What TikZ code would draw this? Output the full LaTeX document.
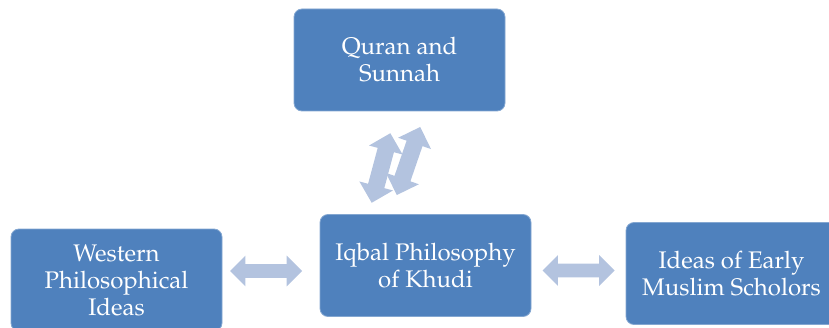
\documentclass[tikz,border=0pt]{standalone}
\usepackage[T1]{fontenc}
\usepackage{mathpazo}
\usepackage{tikz}
\usetikzlibrary{shapes,shapes.arrows,positioning}
\definecolor{boxblue}{HTML}{4F81BD}
\definecolor{arrowblue}{HTML}{B3C3DF}
\tikzset{
	block/.style = {rectangle, rounded corners = 4pt, fill = boxblue, draw = boxblue!70!white,
		line width = 0.4pt, minimum width = 105.5pt, minimum height = 51pt,
		align = center, text = white, font = \fontsize{12}{13.5}\selectfont},
	link arrow/.style = {double arrow, fill = arrowblue, draw = none, inner sep = 3.25pt,
		minimum height = 36pt, minimum width = 15pt, double arrow head extend = 4.25pt},
	wide link/.style = {link arrow, inner sep = 4pt, minimum width = 17pt,
		double arrow head extend = 4.5pt}
}
\begin{document}
\begin{tikzpicture}[x = 0.5pt, y = 0.5pt]
			\useasboundingbox (0, 0) rectangle (829, 327);
			\clip (0, 0) rectangle (829, 327);

			% boxes
			\node [block] (quran)   at (399.5, 267)  {Quran and\\Sunnah};
			\node [block] (khudi)   at (425.5, 61.5) {Iqbal Philosophy\\of Khudi};
			\node [block] (western) at (116.5, 47)   {Western\\Philosophical\\Ideas};
			\node [block] (muslim)  at (731.5, 53.5) {Ideas of Early\\Muslim Scholors};

			% arrows
			\node [link arrow] (leftlink)  at (266, 56)     {};
			\node [link arrow] (rightlink) at (578.5, 56.5) {};
			\node [wide link, rotate = 75] (uplinka) at (381, 159)   {};
			\node [wide link, rotate = 71] (uplinkb) at (408.5, 166) {};
		\end{tikzpicture}
\end{document}
